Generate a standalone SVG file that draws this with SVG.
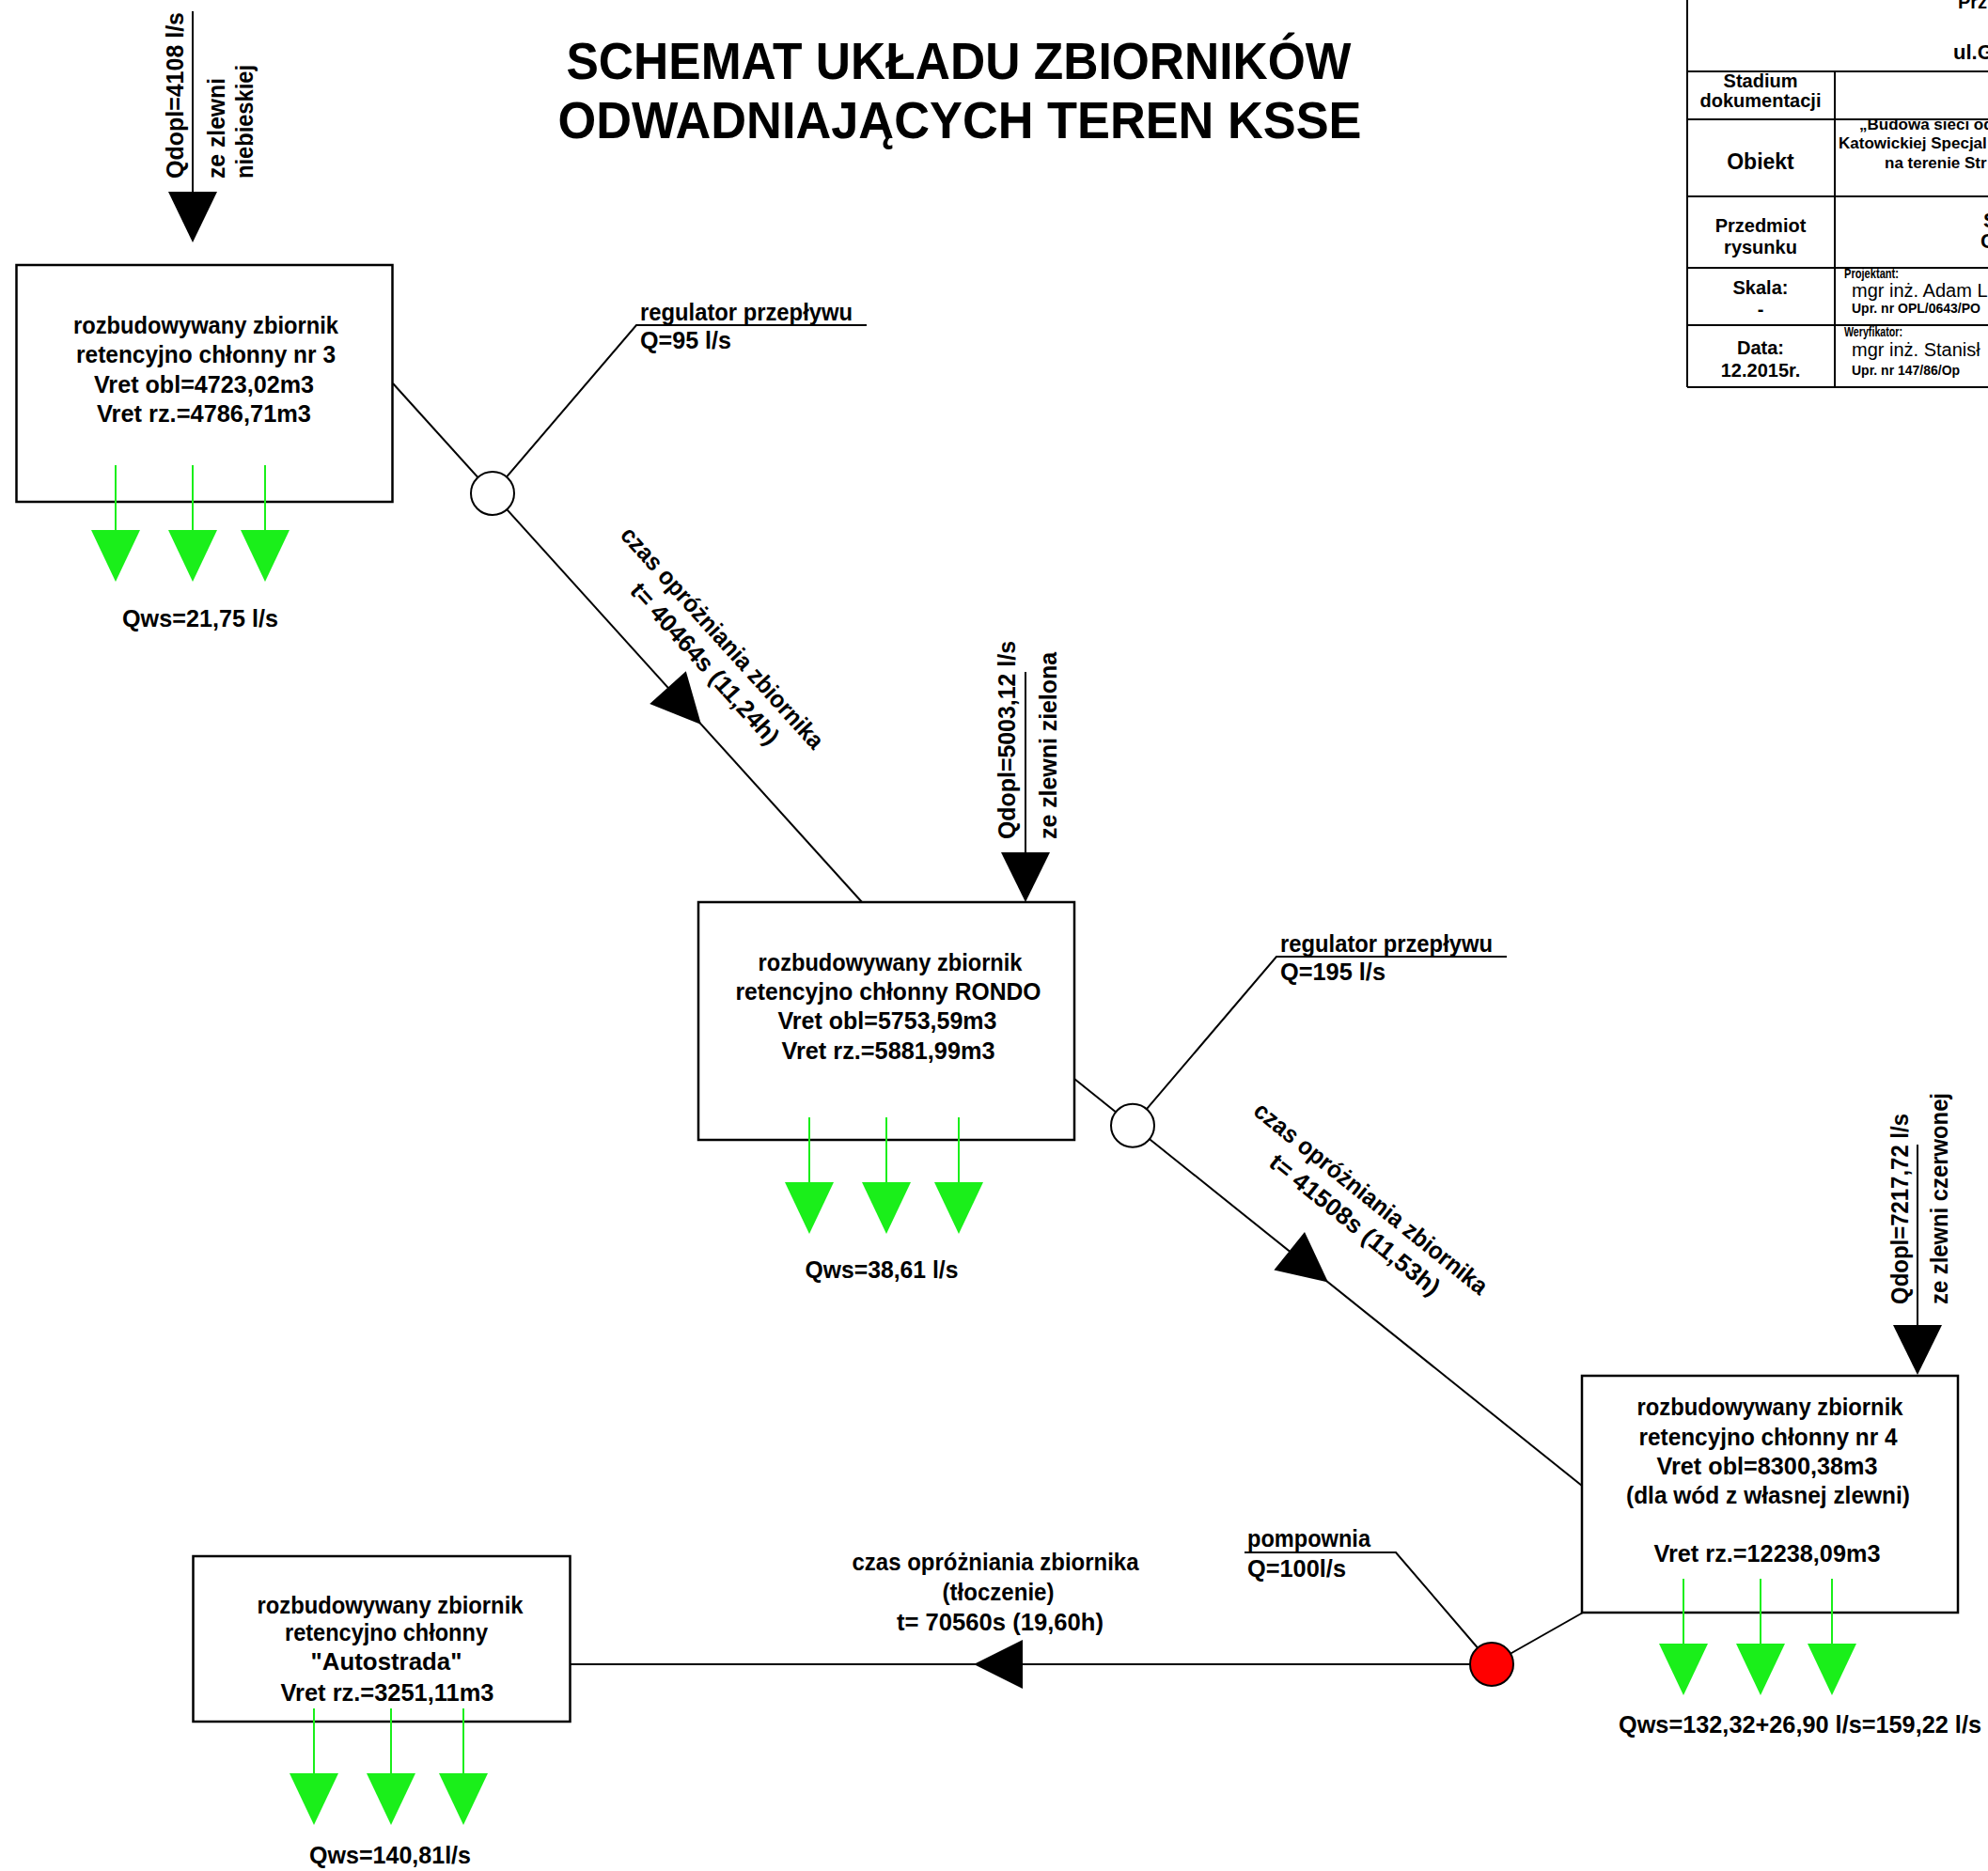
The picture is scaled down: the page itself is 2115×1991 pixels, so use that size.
<svg xmlns="http://www.w3.org/2000/svg" xmlns:xlink="http://www.w3.org/1999/xlink" width="2115" height="1991" viewBox="0 0 2115 1991">
<style>
.t{font-family:"Liberation Sans",Arial,sans-serif;font-weight:bold;font-size:26px;fill:#000}
.c{text-anchor:middle}
.r{font-weight:normal}
.h{font-size:56px}
.s20{font-size:20px}
.s22{font-size:22px}
.s23{font-size:23px}
.s17{font-size:17px}
.s14{font-size:14px}
.box{fill:#fff;stroke:#000;stroke-width:2.5}
.ln{stroke:#000;stroke-width:2;fill:none}
.tb{stroke:#000;stroke-width:2;fill:none}
.blk{fill:#000}
.node{fill:#fff;stroke:#000;stroke-width:2}
.pump{fill:#ff0000;stroke:#000;stroke-width:2}
</style>
<defs>
<g id="green">
<line x1="0" y1="0" x2="0" y2="70" stroke="#1aef1a" stroke-width="2"/>
<polygon points="-26,69 26,69 0,124" fill="#1aef1a"/>
</g>
</defs>
<rect width="2115" height="1991" fill="#fff"/>

<g id="title">
<text class="t c h" x="1020" y="84" textLength="835" lengthAdjust="spacingAndGlyphs">SCHEMAT UKŁADU ZBIORNIKÓW</text>
<text class="t c h" x="1021" y="147" textLength="855" lengthAdjust="spacingAndGlyphs">ODWADNIAJĄCYCH  TEREN KSSE</text>
</g>

<g id="title-block">
<path class="tb" d="M1795,0 V412 M1795,76 H2115 M1795,127 H2115 M1795,209 H2115 M1795,285 H2115 M1795,346 H2115 M1795,412 H2115 M1952,76 V412"/>
<text class="t s20" x="2083" y="9">Prz</text>
<text class="t s22" x="2078" y="63">ul.G</text>
<text class="t c s20" x="1873" y="93">Stadium</text>
<text class="t c s20" x="1873" y="114">dokumentacji</text>
<text class="t c s23" x="1873" y="180">Obiekt</text>
<text class="t c s20" x="1873" y="247">Przedmiot</text>
<text class="t c s20" x="1873" y="270">rysunku</text>
<text class="t c s20" x="1873" y="313">Skala:</text>
<text class="t c s20" x="1873" y="336">-</text>
<text class="t c s20" x="1873" y="377">Data:</text>
<text class="t c s20" x="1873" y="401">12.2015r.</text>
<text class="t s17" x="1978" y="138">„Budowa sieci odp</text>
<text class="t s17" x="1956" y="158">Katowickiej Specjal</text>
<text class="t s17" x="2005" y="179">na terenie Str</text>
<text class="t s22" x="2110" y="242">S</text>
<text class="t s22" x="2107" y="264">C</text>
<text class="t s14" x="1962" y="296" textLength="58" lengthAdjust="spacingAndGlyphs">Projektant:</text>
<text class="t r s20" x="1970" y="316">mgr inż. Adam L</text>
<text class="t s14" x="1970" y="333">Upr. nr OPL/0643/PO</text>
<text class="t s14" x="1962" y="358" textLength="62" lengthAdjust="spacingAndGlyphs">Weryfikator:</text>
<text class="t r s20" x="1970" y="379">mgr inż. Stanisł</text>
<text class="t s14" x="1970" y="399">Upr. nr 147/86/Op</text>
</g>

<g id="connectors">
<line class="ln" x1="418" y1="408" x2="917" y2="960"/>
<polygon class="blk" points="746,771 729.8,714.3 691.2,749.1"/>
<polyline class="ln" points="524,525 677,346 922,346"/>
<line class="ln" x1="1143" y1="1148" x2="1683" y2="1581"/>
<polygon class="blk" points="1413,1364.5 1388,1311 1355.4,1351.6"/>
<polyline class="ln" points="1205,1197.7 1358,1018 1603,1018"/>
<line class="ln" x1="1684" y1="1716" x2="1587" y2="1771"/>
<polyline class="ln" points="1587,1771 1485,1652 1324,1652"/>
<line class="ln" x1="1587" y1="1771" x2="607" y2="1771"/>
<polygon class="blk" points="1036,1771 1088,1745 1088,1797"/>
<line class="ln" x1="205" y1="12" x2="205" y2="206"/>
<polygon class="blk" points="179,204 231,204 205,258"/>
<line class="ln" x1="1091" y1="715" x2="1091" y2="909"/>
<polygon class="blk" points="1065,907 1117,907 1091,960"/>
<line class="ln" x1="2040" y1="1218" x2="2040" y2="1412"/>
<polygon class="blk" points="2014,1410 2066,1410 2040,1463"/>
</g>

<g id="label-inflow-nr3">
<text class="t" transform="translate(195,190) rotate(-90)" textLength="177" lengthAdjust="spacingAndGlyphs">Qdopl=4108 l/s</text>
<text class="t" transform="translate(239,190) rotate(-90)" textLength="107" lengthAdjust="spacingAndGlyphs">ze zlewni</text>
<text class="t" transform="translate(269,190) rotate(-90)" textLength="121" lengthAdjust="spacingAndGlyphs">niebieskiej</text>
</g>
<g id="label-inflow-rondo">
<text class="t" transform="translate(1080,893) rotate(-90)" textLength="211" lengthAdjust="spacingAndGlyphs">Qdopl=5003,12 l/s</text>
<text class="t" transform="translate(1124,893) rotate(-90)" textLength="199" lengthAdjust="spacingAndGlyphs">ze zlewni zielona</text>
</g>
<g id="label-inflow-nr4">
<text class="t" transform="translate(2030,1388) rotate(-90)" textLength="203" lengthAdjust="spacingAndGlyphs">Qdopl=7217,72 l/s</text>
<text class="t" transform="translate(2072,1388) rotate(-90)" textLength="225" lengthAdjust="spacingAndGlyphs">ze zlewni czerwonej</text>
</g>

<g id="label-time-1">
<text class="t c" transform="translate(762,684.6) rotate(47.9)" textLength="308" lengthAdjust="spacingAndGlyphs">czas opróżniania zbiornika</text>
<text class="t c" transform="translate(743.5,712) rotate(47.9)" textLength="222" lengthAdjust="spacingAndGlyphs">t= 40464s (11,24h)</text>
</g>
<g id="label-time-2">
<text class="t c" transform="translate(1453,1282) rotate(38.7)" textLength="310" lengthAdjust="spacingAndGlyphs">czas opróżniania zbiornika</text>
<text class="t c" transform="translate(1436,1310) rotate(38.7)" textLength="224" lengthAdjust="spacingAndGlyphs">t= 41508s (11,53h)</text>
</g>
<g id="label-time-3">
<text class="t c" x="1059" y="1671" textLength="305" lengthAdjust="spacingAndGlyphs">czas opróżniania zbiornika</text>
<text class="t c" x="1062" y="1703" textLength="119" lengthAdjust="spacingAndGlyphs">(tłoczenie)</text>
<text class="t c" x="1064" y="1735" textLength="220" lengthAdjust="spacingAndGlyphs">t= 70560s (19,60h)</text>
</g>

<g id="regulator-1">
<circle class="node" cx="524" cy="525" r="23"/>
<text class="t" x="681" y="341" textLength="226" lengthAdjust="spacingAndGlyphs">regulator przepływu</text>
<text class="t" x="681" y="371" textLength="97" lengthAdjust="spacingAndGlyphs">Q=95 l/s</text>
</g>
<g id="regulator-2">
<circle class="node" cx="1205" cy="1197.7" r="23"/>
<text class="t" x="1362" y="1013" textLength="226" lengthAdjust="spacingAndGlyphs">regulator przepływu</text>
<text class="t" x="1362" y="1043" textLength="112" lengthAdjust="spacingAndGlyphs">Q=195 l/s</text>
</g>
<g id="pompownia">
<circle class="pump" cx="1587" cy="1771" r="23"/>
<text class="t" x="1327" y="1646" textLength="131" lengthAdjust="spacingAndGlyphs">pompownia</text>
<text class="t" x="1327" y="1678" textLength="105" lengthAdjust="spacingAndGlyphs">Q=100l/s</text>
</g>

<g id="tank-nr3">
<rect class="box" x="17.5" y="282" width="400" height="252"/>
<text class="t c" x="219" y="355" textLength="282" lengthAdjust="spacingAndGlyphs">rozbudowywany zbiornik</text>
<text class="t c" x="219" y="386" textLength="276" lengthAdjust="spacingAndGlyphs">retencyjno chłonny  nr 3</text>
<text class="t c" x="217" y="418" textLength="234" lengthAdjust="spacingAndGlyphs">Vret obl=4723,02m3</text>
<text class="t c" x="217" y="449" textLength="228" lengthAdjust="spacingAndGlyphs">Vret rz.=4786,71m3</text>
<use xlink:href="#green" href="#green" x="123" y="495"/>
<use xlink:href="#green" href="#green" x="205" y="495"/>
<use xlink:href="#green" href="#green" x="282" y="495"/>
<text class="t c" x="213" y="667" textLength="166" lengthAdjust="spacingAndGlyphs">Qws=21,75 l/s</text>
</g>

<g id="tank-rondo">
<rect class="box" x="743" y="960" width="400" height="253"/>
<text class="t c" x="947" y="1033" textLength="281" lengthAdjust="spacingAndGlyphs">rozbudowywany zbiornik</text>
<text class="t c" x="945" y="1064" textLength="325" lengthAdjust="spacingAndGlyphs">retencyjno chłonny  RONDO</text>
<text class="t c" x="944" y="1095" textLength="233" lengthAdjust="spacingAndGlyphs">Vret obl=5753,59m3</text>
<text class="t c" x="945" y="1127" textLength="227" lengthAdjust="spacingAndGlyphs">Vret rz.=5881,99m3</text>
<use xlink:href="#green" href="#green" x="861" y="1189"/>
<use xlink:href="#green" href="#green" x="943" y="1189"/>
<use xlink:href="#green" href="#green" x="1020" y="1189"/>
<text class="t c" x="938" y="1360" textLength="163" lengthAdjust="spacingAndGlyphs">Qws=38,61 l/s</text>
</g>

<g id="tank-nr4">
<rect class="box" x="1683" y="1464" width="400" height="252"/>
<text class="t c" x="1883" y="1506" textLength="283" lengthAdjust="spacingAndGlyphs">rozbudowywany zbiornik</text>
<text class="t c" x="1881" y="1538" textLength="275" lengthAdjust="spacingAndGlyphs">retencyjno chłonny  nr 4</text>
<text class="t c" x="1880" y="1569" textLength="235" lengthAdjust="spacingAndGlyphs">Vret obl=8300,38m3</text>
<text class="t c" x="1881" y="1600" textLength="302" lengthAdjust="spacingAndGlyphs">(dla wód z własnej zlewni)</text>
<text class="t c" x="1880" y="1662" textLength="241" lengthAdjust="spacingAndGlyphs">Vret rz.=12238,09m3</text>
<use xlink:href="#green" href="#green" x="1791" y="1680"/>
<use xlink:href="#green" href="#green" x="1873" y="1680"/>
<use xlink:href="#green" href="#green" x="1949" y="1680"/>
<text class="t c" x="1915" y="1844" textLength="386" lengthAdjust="spacingAndGlyphs">Qws=132,32+26,90 l/s=159,22 l/s</text>
</g>

<g id="tank-autostrada">
<rect class="box" x="205.5" y="1656" width="401" height="176"/>
<text class="t c" x="415" y="1717" textLength="283" lengthAdjust="spacingAndGlyphs">rozbudowywany zbiornik</text>
<text class="t c" x="411" y="1746" textLength="216" lengthAdjust="spacingAndGlyphs">retencyjno chłonny</text>
<text class="t c" x="411" y="1777" textLength="161" lengthAdjust="spacingAndGlyphs">"Autostrada"</text>
<text class="t c" x="412" y="1810" textLength="227" lengthAdjust="spacingAndGlyphs">Vret rz.=3251,11m3</text>
<use xlink:href="#green" href="#green" x="334" y="1818"/>
<use xlink:href="#green" href="#green" x="416" y="1818"/>
<use xlink:href="#green" href="#green" x="493" y="1818"/>
<text class="t c" x="415" y="1983" textLength="172" lengthAdjust="spacingAndGlyphs">Qws=140,81l/s</text>
</g>
</svg>
